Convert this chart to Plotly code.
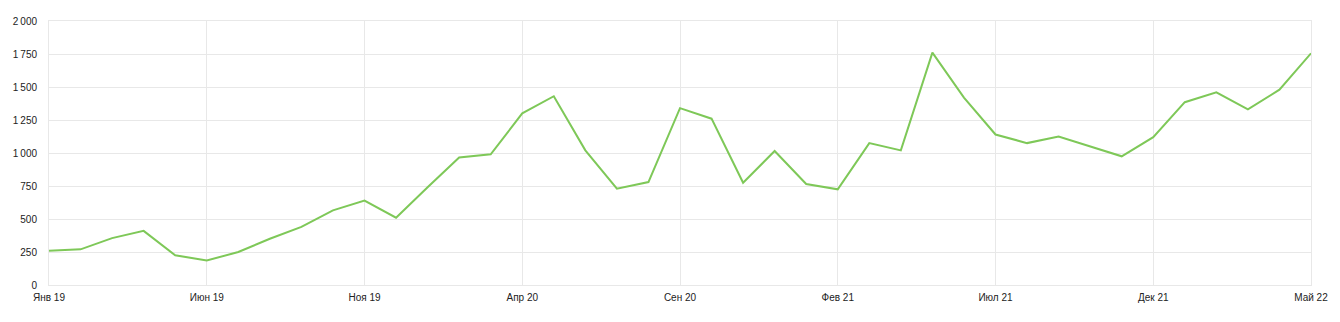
import plotly.graph_objects as go

months_ru = ["Янв", "Фев", "Мар", "Апр", "Май", "Июн", "Июл", "Авг", "Сен", "Окт", "Ноя", "Дек"]
years = ["19", "20", "21", "22"]
categories = [f"{m} {y}" for y in years for m in months_ru][:41]

values = [260, 270, 355, 410, 225, 185, 250, 350, 440, 565, 640, 510,
          740, 966, 990, 1300, 1430, 1020, 730, 780, 1340, 1260, 775, 1015,
          765, 725, 1075, 1020, 1760, 1420, 1140, 1075, 1125, 1050, 975, 1120,
          1385, 1460, 1330, 1480, 1755]

x_ticks = categories[::5]
y_ticks = [0, 250, 500, 750, 1000, 1250, 1500, 1750, 2000]
y_tick_text = ["0", "250", "500", "750", "1\u2009000", "1\u2009250", "1\u2009500", "1\u2009750", "2\u2009000"]

fig = go.Figure()
fig.add_trace(go.Scatter(
    x=categories, y=values, mode="lines",
    line=dict(color="#7ec858", width=2),
    hoverinfo="x+y",
))

grid = "#e8e8e8"
font = dict(family="Liberation Sans, Arial, sans-serif", size=10, color="#222222")

fig.update_layout(
    width=1340, height=322,
    margin=dict(l=49, r=26, t=21, b=37),
    paper_bgcolor="white", plot_bgcolor="white",
    showlegend=False,
    font=font,
    xaxis=dict(
        type="category",
        range=[0, 40],
        tickmode="array", tickvals=x_ticks, ticktext=x_ticks,
        showgrid=True, gridcolor=grid, gridwidth=1,
        showline=True, linecolor=grid, linewidth=1, mirror=True,
        ticks="outside", ticklen=3, tickcolor="rgba(0,0,0,0)",
        tickfont=font,
    ),
    yaxis=dict(
        range=[0, 2000],
        tickmode="array", tickvals=y_ticks, ticktext=y_tick_text,
        showgrid=True, gridcolor=grid, gridwidth=1,
        showline=True, linecolor=grid, linewidth=1, mirror=True,
        zeroline=False,
        ticks="outside", ticklen=9, tickcolor="rgba(0,0,0,0)",
        tickfont=font,
    ),
)

fig.write_html("out.html")
